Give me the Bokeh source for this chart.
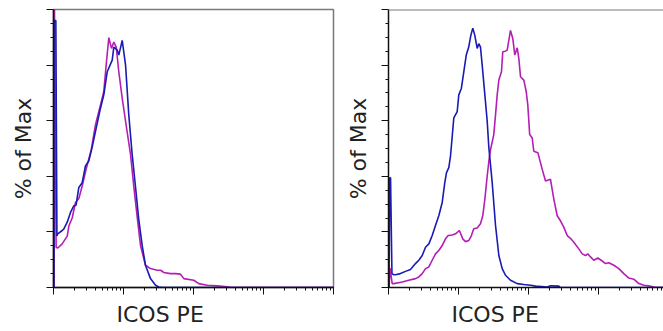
from bokeh.plotting import figure
from bokeh.layouts import row
from bokeh.models import Title, Span, LogTicker, FixedTicker
from bokeh.embed import file_html
from bokeh.resources import INLINE

# ---- data (ICOS PE intensity, % of Max) ----
left_magenta_x = [1.02, 1.03, 1.09, 1.15, 1.33, 1.57, 1.66, 1.85, 2.06, 2.30, 2.57, 2.96, 3.46, 3.98,
                  4.69, 5.23, 5.71, 6.17, 6.74, 7.27, 7.87, 8.57, 9.58, 10.7, 12.6, 14.0, 16.0, 17.5,
                  20.6, 24.3, 30.3, 33.8, 37.7, 46.9, 55.3, 65.2, 72.7, 101, 119, 157, 218, 303, 338, 10000]
left_magenta_y = [0, 104, 14.5, 14.2, 15.7, 18.5, 22.2, 25, 30.6, 32, 36.5, 43.1, 49.6, 58.6,
                  65.7, 70.5, 81.2, 89.9, 86, 88.3, 86.5, 77.6, 68.1, 59.8, 47.9, 36.5, 23.5, 15.1,
                  8.0, 6.8, 6.2, 6.2, 5.4, 5.0, 5.0, 4.8, 3.2, 2.6, 1.4, 0.8, 0.6, 0.25, 0, 0]

left_blue_x = [1.01, 1.02, 1.08, 1.12, 1.15, 1.33, 1.40, 1.57, 1.75, 1.95, 2.10, 2.30, 2.57, 2.86,
               3.19, 3.57, 3.98, 4.69, 5.23, 5.85, 6.90, 7.27, 8.13, 8.57, 9.58, 10.7, 11.9, 13.3,
               14.8, 16.5, 18.5, 20.6, 24.3, 28.7, 31.9, 36.1, 10000]
left_blue_y = [0, 96, 96, 18.5, 19.3, 20.5, 21, 23.5, 27, 29.4, 29.6, 36, 37.7, 43.7,
               45.5, 50.5, 56.2, 64.5, 69.3, 77.6, 81.8, 86.5, 85.4, 83.6, 88.9, 80, 62.1, 47.9,
               36.5, 24.6, 15.1, 8, 3.2, 0.8, 0.2, 0, 0]

right_magenta_x = [1.02, 1.05, 1.13, 1.19, 1.57, 1.95, 2.43, 2.71, 3.03, 3.38, 3.77, 4.21, 4.69, 5.23,
                   5.85, 6.52, 7.13, 8.13, 9.06, 10.3, 11.5, 12.6, 14.0, 15.3, 16.5, 18.5, 20.6, 22.2,
                   23.8, 25.7, 27.7, 28.7, 31.9, 33.8, 35.7, 37.7, 41.1, 42.9, 46.9, 49.6, 55.3, 59.7,
                   63.7, 69.0, 72.7, 76.9, 85.7, 92.7, 97.7, 104, 113, 119, 136, 157, 175, 206, 230,
                   257, 286, 319, 357, 398, 444, 523, 585, 652, 703, 769, 857, 978, 1093, 1259, 1403,
                   1656, 1950, 2297, 2710, 3193, 3767, 4437, 5232, 6166, 6900, 10000]
right_magenta_y = [0, 7, 1.4, 1.4, 2, 2.6, 3.2, 3.8, 5, 6.8, 7.4, 9.8, 12.1, 13.3,
                   15.1, 17.5, 18.7, 18.9, 19.3, 20.5, 17.5, 16.5, 16.9, 18.7, 21.1, 21.4, 22.9, 25.8,
                   31.8, 40.1, 47.3, 49.6, 55, 62.1, 69.3, 74.6, 77.6, 84.8, 85, 85.4, 92.5, 89.5,
                   83.6, 86.2, 82.4, 75.8, 74.6, 70.5, 65.7, 55, 53.8, 49, 48.5, 42.5, 38.3, 38.9, 31.8,
                   25.8, 24, 21.7, 18.7, 17.7, 16.3, 13.9, 12.1, 11.5, 12.1, 11, 9.8, 10.6, 9.8, 8.6, 8.9,
                   8, 6.8, 5, 3.4, 3, 1.4, 0.8, 0.6, 0.2, 0, 0]

right_blue_x = [1.02, 1.04, 1.07, 1.12, 1.19, 1.26, 1.48, 1.75, 2.06, 2.43, 2.71, 3.03, 3.38, 3.77,
                4.21, 4.69, 5.23, 5.85, 6.37, 6.74, 7.27, 7.69, 8.57, 9.58, 10.1, 11.0, 11.9, 12.9,
                14.0, 15.0, 16.0, 17.1, 18.5, 19.5, 20.6, 21.8, 23.8, 25.7, 27.1, 30.3, 33.8, 37.7,
                42.1, 46.9, 55.3, 69.0, 85.7, 107, 126, 185, 206, 271, 286, 10000]
right_blue_y = [0, 39.5, 39.5, 5, 4.6, 4.6, 5, 5.8, 6.5, 8.6, 9.8, 11.5, 14.5, 15.7,
                18.7, 22.3, 25.8, 30.6, 37.7, 41.3, 43.1, 47.3, 61, 63.3, 69.3, 71.7, 77.6, 83.6,
                86.5, 90.7, 93.3, 90.7, 86, 87.7, 86.5, 80, 69.3, 59.8, 50.5, 37.7, 22.3, 11.5,
                6.8, 4.4, 2.6, 1.4, 1.1, 0.8, 0.5, 0.2, 0.6, 0.5, 0, 0]

x_label = "ICOS PE"
y_label = "% of Max"

MAGENTA = "#b41eb4"
BLUE = "#1a1ab4"
FONT = "DejaVu Sans"
TXT = "#222222"


def make_panel(x_end, width, border_left, border_right, mx, my, bx, by, outline):
    p = figure(width=width, height=331, x_axis_type="log", x_range=(1, x_end), y_range=(0, 100),
               output_backend="svg", toolbar_location=None,
               min_border_left=border_left, min_border_right=border_right,
               min_border_top=9, min_border_bottom=42)
    p.grid.visible = False
    p.background_fill_color = "white"
    p.border_fill_color = "white"
    if outline:
        p.outline_line_color = "#7a7a7a"
        p.outline_line_width = 1.5
    else:
        p.outline_line_color = None
        p.add_layout(Span(location=100, dimension="width", line_color="#7a7a7a", line_width=2))

    p.line(mx, my, line_color=MAGENTA, line_width=1.6)
    p.line(bx, by, line_color=BLUE, line_width=1.6)

    p.xaxis.ticker = LogTicker(num_minor_ticks=10)
    p.yaxis.ticker = FixedTicker(ticks=[0, 20, 40, 60, 80, 100],
                                 minor_ticks=[5, 10, 15, 25, 30, 35, 45, 50, 55, 65, 70, 75, 85, 90, 95])
    for ax in (p.xaxis[0], p.yaxis[0]):
        ax.axis_line_color = "#111111"
        ax.axis_line_width = 1.5
        ax.major_tick_line_color = "#111111"
        ax.minor_tick_line_color = "#111111"
        ax.major_tick_in = 0
        ax.minor_tick_in = 0
        ax.major_tick_out = 7
        ax.minor_tick_out = 3
        ax.major_label_text_font_size = "1px"
        ax.major_label_text_alpha = 0
        ax.major_label_standoff = 0

    p.yaxis.axis_label = y_label
    p.yaxis.axis_label_text_font = FONT
    p.yaxis.axis_label_text_font_size = "22px"
    p.yaxis.axis_label_text_font_style = "normal"
    p.yaxis.axis_label_text_color = TXT
    p.yaxis.axis_label_standoff = 11

    p.add_layout(Title(text=x_label, align="left", offset=63, standoff=10,
                       text_font=FONT, text_font_size="22px", text_font_style="normal",
                       text_color=TXT), "below")
    return p


left = make_panel(10000, 335, 53, 2, left_magenta_x, left_magenta_y, left_blue_x, left_blue_y, True)
right = make_panel(8480, 328, 53, 0, right_magenta_x, right_magenta_y, right_blue_x, right_blue_y, False)

layout = row(left, right)
open("out.html", "w").write(file_html(layout, INLINE))
